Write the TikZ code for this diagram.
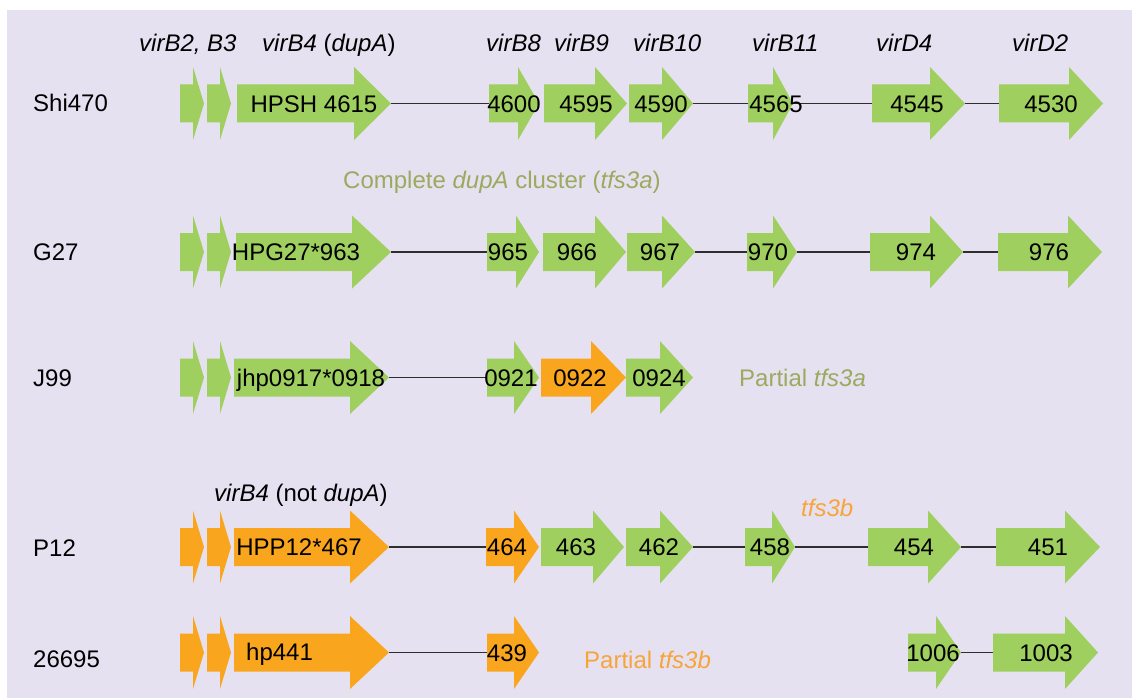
\documentclass[tikz,border=0pt]{standalone}
\usepackage{fontspec}
\setmainfont{Liberation Sans}
\definecolor{bgcol}{HTML}{E6E1F0}
\definecolor{genegreen}{HTML}{9FCF5E}
\definecolor{geneorange}{HTML}{F9A61E}
\definecolor{olivetext}{HTML}{9BAA5E}
\definecolor{orangetext}{HTML}{F7A43A}
\definecolor{linecol}{HTML}{2E2E2E}
\pgfdeclarelayer{bglayer}
\pgfdeclarelayer{linelayer}
\pgfsetlayers{bglayer,linelayer,main}
\tikzset{
  txt/.style={inner sep=0pt, font=\fontsize{24}{28}\selectfont},
  genetext/.style={txt, anchor=base},
  lbl/.style={txt, anchor=base west},
  hdr/.style={txt, anchor=base west, font=\fontsize{24}{28}\selectfont\itshape},
  conn/.style={draw=linecol, line width=1.8pt},
}
% \gene{name}{colour}{x0}{xh}{xt}{y}
\newcommand\gene[6]{%
  \fill[#2] (#3,#6-19) -- (#4,#6-19) -- (#4,#6-36.5) -- (#5,#6) -- (#4,#6+36.5) -- (#4,#6+19) -- (#3,#6+19) -- cycle;
  \coordinate (#1-w) at (#3,#6);
  \coordinate (#1-e) at (#5,#6);
}
\begin{document}
\begin{tikzpicture}[x=1pt,y=-1pt]
\useasboundingbox (0,0) rectangle (1132,698);
\begin{pgfonlayer}{bglayer}
\fill[white] (0,0) rectangle (1132,698);
\fill[bgcol] (7,10) rectangle (1132,698);
\end{pgfonlayer}

% header labels
\node[hdr] (hB23) at (139,51.6) {virB2, B3};
\node[hdr] (hB4) at (262,51.6) {virB4 \upshape(\itshape dupA\upshape)};
\node[hdr] (hB8) at (486,51.6) {virB8};
\node[hdr] (hB9) at (554,51.6) {virB9};
\node[hdr] (hB10) at (633,51.6) {virB10};
\node[hdr] (hB11) at (752,51.6) {virB11};
\node[hdr] (hD4) at (876,51.6) {virD4};
\node[hdr] (hD2) at (1012,51.6) {virD2};

% strain labels
\node[lbl] (sShi) at (33,112) {Shi470};
\node[lbl] (sG27) at (33,260.6) {G27};
\node[lbl] (sJ99) at (33,386) {J99};
\node[lbl] (sP12) at (33,556.6) {P12};
\node[lbl] (s26695) at (33,667) {26695};

% ---------- Shi470 ----------
\def\yy{103.5}
\gene{sa1}{genegreen}{180}{193}{204}{\yy}
\gene{sa2}{genegreen}{207}{220}{231}{\yy}
\gene{s4615}{genegreen}{237}{354}{391}{\yy}
\gene{s4600}{genegreen}{489}{518}{539}{\yy}
\gene{s4595}{genegreen}{544}{595}{627}{\yy}
\gene{s4590}{genegreen}{629}{662}{693}{\yy}
\gene{s4565}{genegreen}{748}{773}{793}{\yy}
\gene{s4545}{genegreen}{872}{930}{965}{\yy}
\gene{s4530}{genegreen}{999}{1069}{1103}{\yy}
\node[genetext] (tS4615) at (314,112.1) {HPSH 4615};
\node[genetext] (tS4600) at (514,112.1) {4600};
\node[genetext] (tS4595) at (586,112.1) {4595};
\node[genetext] (tS4590) at (661,112.1) {4590};
\node[genetext] (tS4565) at (776,112.1) {4565};
\node[genetext] (tS4545) at (917,112.1) {4545};
\node[genetext] (tS4530) at (1051,112.1) {4530};
\begin{pgfonlayer}{linelayer}
\draw[conn] (s4615-e) -- (s4600-w);
\draw[conn] (s4590-e) -- (s4565-w);
\draw[conn] (s4565-e) -- (s4545-w);
\draw[conn] (s4545-e) -- (s4530-w);
\end{pgfonlayer}

\node[txt, anchor=base west, text=olivetext] (complete) at (343,188.6) {Complete \textit{dupA} cluster (\textit{tfs3a})};

% ---------- G27 ----------
\def\yy{252}
\gene{ga1}{genegreen}{180}{193}{204}{\yy}
\gene{ga2}{genegreen}{207}{220}{231}{\yy}
\gene{g963}{genegreen}{236}{352}{391}{\yy}
\gene{g965}{genegreen}{487}{516}{539}{\yy}
\gene{g966}{genegreen}{543}{595}{626}{\yy}
\gene{g967}{genegreen}{627}{662}{695}{\yy}
\gene{g970}{genegreen}{747}{773}{797}{\yy}
\gene{g974}{genegreen}{870}{930}{963}{\yy}
\gene{g976}{genegreen}{998}{1068}{1102}{\yy}
\node[genetext] (tG963) at (296,260.6) {HPG27*963};
\node[genetext] (tG965) at (508,260.6) {965};
\node[genetext] (tG966) at (577,260.6) {966};
\node[genetext] (tG967) at (660,260.6) {967};
\node[genetext] (tG970) at (768,260.6) {970};
\node[genetext] (tG974) at (916,260.6) {974};
\node[genetext] (tG976) at (1049,260.6) {976};
\begin{pgfonlayer}{linelayer}
\draw[conn] (g963-e) -- (g965-w);
\draw[conn] (g967-e) -- (g970-w);
\draw[conn] (g970-e) -- (g974-w);
\draw[conn] (g974-e) -- (g976-w);
\end{pgfonlayer}

% ---------- J99 ----------
\def\yy{377.5}
\gene{ja1}{genegreen}{180}{193}{204}{\yy}
\gene{ja2}{genegreen}{207}{220}{231}{\yy}
\gene{j0918}{genegreen}{234}{350}{389}{\yy}
\gene{j0921}{genegreen}{487}{514}{539}{\yy}
\gene{j0922}{geneorange}{541}{591}{626}{\yy}
\gene{j0924}{genegreen}{626}{660}{693}{\yy}
\node[genetext] (tJ0918) at (311,386.1) {jhp0917*0918};
\node[genetext] (tJ0921) at (511,386.1) {0921};
\node[genetext] (tJ0922) at (580,386.1) {0922};
\node[genetext] (tJ0924) at (659,386.1) {0924};
\begin{pgfonlayer}{linelayer}
\draw[conn] (j0918-e) -- (j0921-w);
\end{pgfonlayer}
\node[txt, anchor=base west, text=olivetext] (partA) at (739,386.1) {Partial \textit{tfs3a}};

% ---------- P12 ----------
\node[lbl] (notdupA) at (214,501.6) {\textit{virB4} (not \textit{dupA})};
\node[txt, anchor=base west, text=orangetext] (tfsb) at (801,516.6) {\textit{tfs3b}};
\def\yy{547}
\gene{pa1}{geneorange}{180}{193}{204}{\yy}
\gene{pa2}{geneorange}{207}{220}{231}{\yy}
\gene{p467}{geneorange}{234}{350}{389}{\yy}
\gene{p464}{geneorange}{486}{514}{539}{\yy}
\gene{p463}{genegreen}{541}{593}{624}{\yy}
\gene{p462}{genegreen}{626}{660}{693}{\yy}
\gene{p458}{genegreen}{745}{772}{795}{\yy}
\gene{p454}{genegreen}{868}{928}{961}{\yy}
\gene{p451}{genegreen}{996}{1065}{1100}{\yy}
\node[genetext] (tP467) at (299,555.6) {HPP12*467};
\node[genetext] (tP464) at (507,555.6) {464};
\node[genetext] (tP463) at (576,555.6) {463};
\node[genetext] (tP462) at (659,555.6) {462};
\node[genetext] (tP458) at (770,555.6) {458};
\node[genetext] (tP454) at (914,555.6) {454};
\node[genetext] (tP451) at (1048,555.6) {451};
\begin{pgfonlayer}{linelayer}
\draw[conn] (p467-e) -- (p464-w);
\draw[conn] (p462-e) -- (p458-w);
\draw[conn] (p458-e) -- (p454-w);
\draw[conn] (p454-e) -- (p451-w);
\end{pgfonlayer}

% ---------- 26695 ----------
\def\yy{652.5}
\gene{ha1}{geneorange}{180}{193}{204}{\yy}
\gene{ha2}{geneorange}{207}{220}{231}{\yy}
\gene{h441}{geneorange}{234}{350}{389}{\yy}
\gene{h439}{geneorange}{487}{514}{539}{\yy}
\gene{h1006}{genegreen}{908}{936}{961}{\yy}
\gene{h1003}{genegreen}{993}{1065}{1098}{\yy}
\node[genetext, anchor=base west] (tH441) at (246,660) {hp441};
\node[genetext] (tH439) at (507,661.1) {439};
\node[genetext] (tH1006) at (933,661.1) {1006};
\node[genetext] (tH1003) at (1046,661.1) {1003};
\begin{pgfonlayer}{linelayer}
\draw[conn] (h441-e) -- (h439-w);
\draw[conn] (h1006-e) -- (h1003-w);
\end{pgfonlayer}
\node[txt, anchor=base west, text=orangetext] (partB) at (584,668.6) {Partial \textit{tfs3b}};
\end{tikzpicture}
\end{document}
